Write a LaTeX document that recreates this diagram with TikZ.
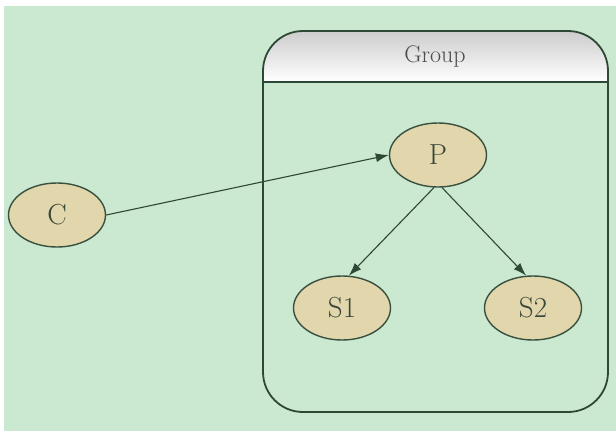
\documentclass[tikz,border=0pt]{standalone}
\usetikzlibrary{shapes.geometric,arrows.meta}
\definecolor{bggreen}{RGB}{203,232,208}
\definecolor{nodefill}{RGB}{226,215,172}
\definecolor{edgecol}{RGB}{45,72,52}
\definecolor{textcol}{RGB}{58,70,58}
\begin{document}
\begin{tikzpicture}[x=1pt,y=-1pt,
    proc/.style={ellipse, draw=edgecol!85!gray, line width=1.4pt, fill=nodefill,
      minimum width=97pt, minimum height=64pt, inner sep=0pt,
      text=textcol, font=\fontsize{29}{30}\selectfont},
    link/.style={draw=edgecol, line width=1.1pt, -{Latex[length=13pt,width=9pt]}}]
  \useasboundingbox (0,0) rectangle (616,431);
  \fill [bggreen] (4,6) rectangle (616,431);
  % the group box with its shaded header
  \begin{scope}
    \clip [rounded corners=40pt] (263,31) rectangle (608,412);
    \shade [top color=gray!40, bottom color=white] (263,31) rectangle (608,82);
  \end{scope}
  \draw [edgecol, line width=1.8pt] (263,82) -- (608,82);
  \draw [edgecol, line width=1.8pt, rounded corners=40pt] (263,31) rectangle (608,412);
  \node [text=black!70, font=\fontsize{24}{26}\selectfont] (grouptitle) at (435,56) {Group};
  % processes
  \node [proc] (c) at (57,215) {C};
  \node [proc] (p) at (438,155) {P};
  \node [proc] (s1) at (342,308) {S1};
  \node [proc] (s2) at (533,308) {S2};
  \draw [link] (c.east) -- (p.west);
  \draw [link] (p.263) -- (s1.78);
  \draw [link] (p.277) -- (s2.102);
\end{tikzpicture}
\end{document}
